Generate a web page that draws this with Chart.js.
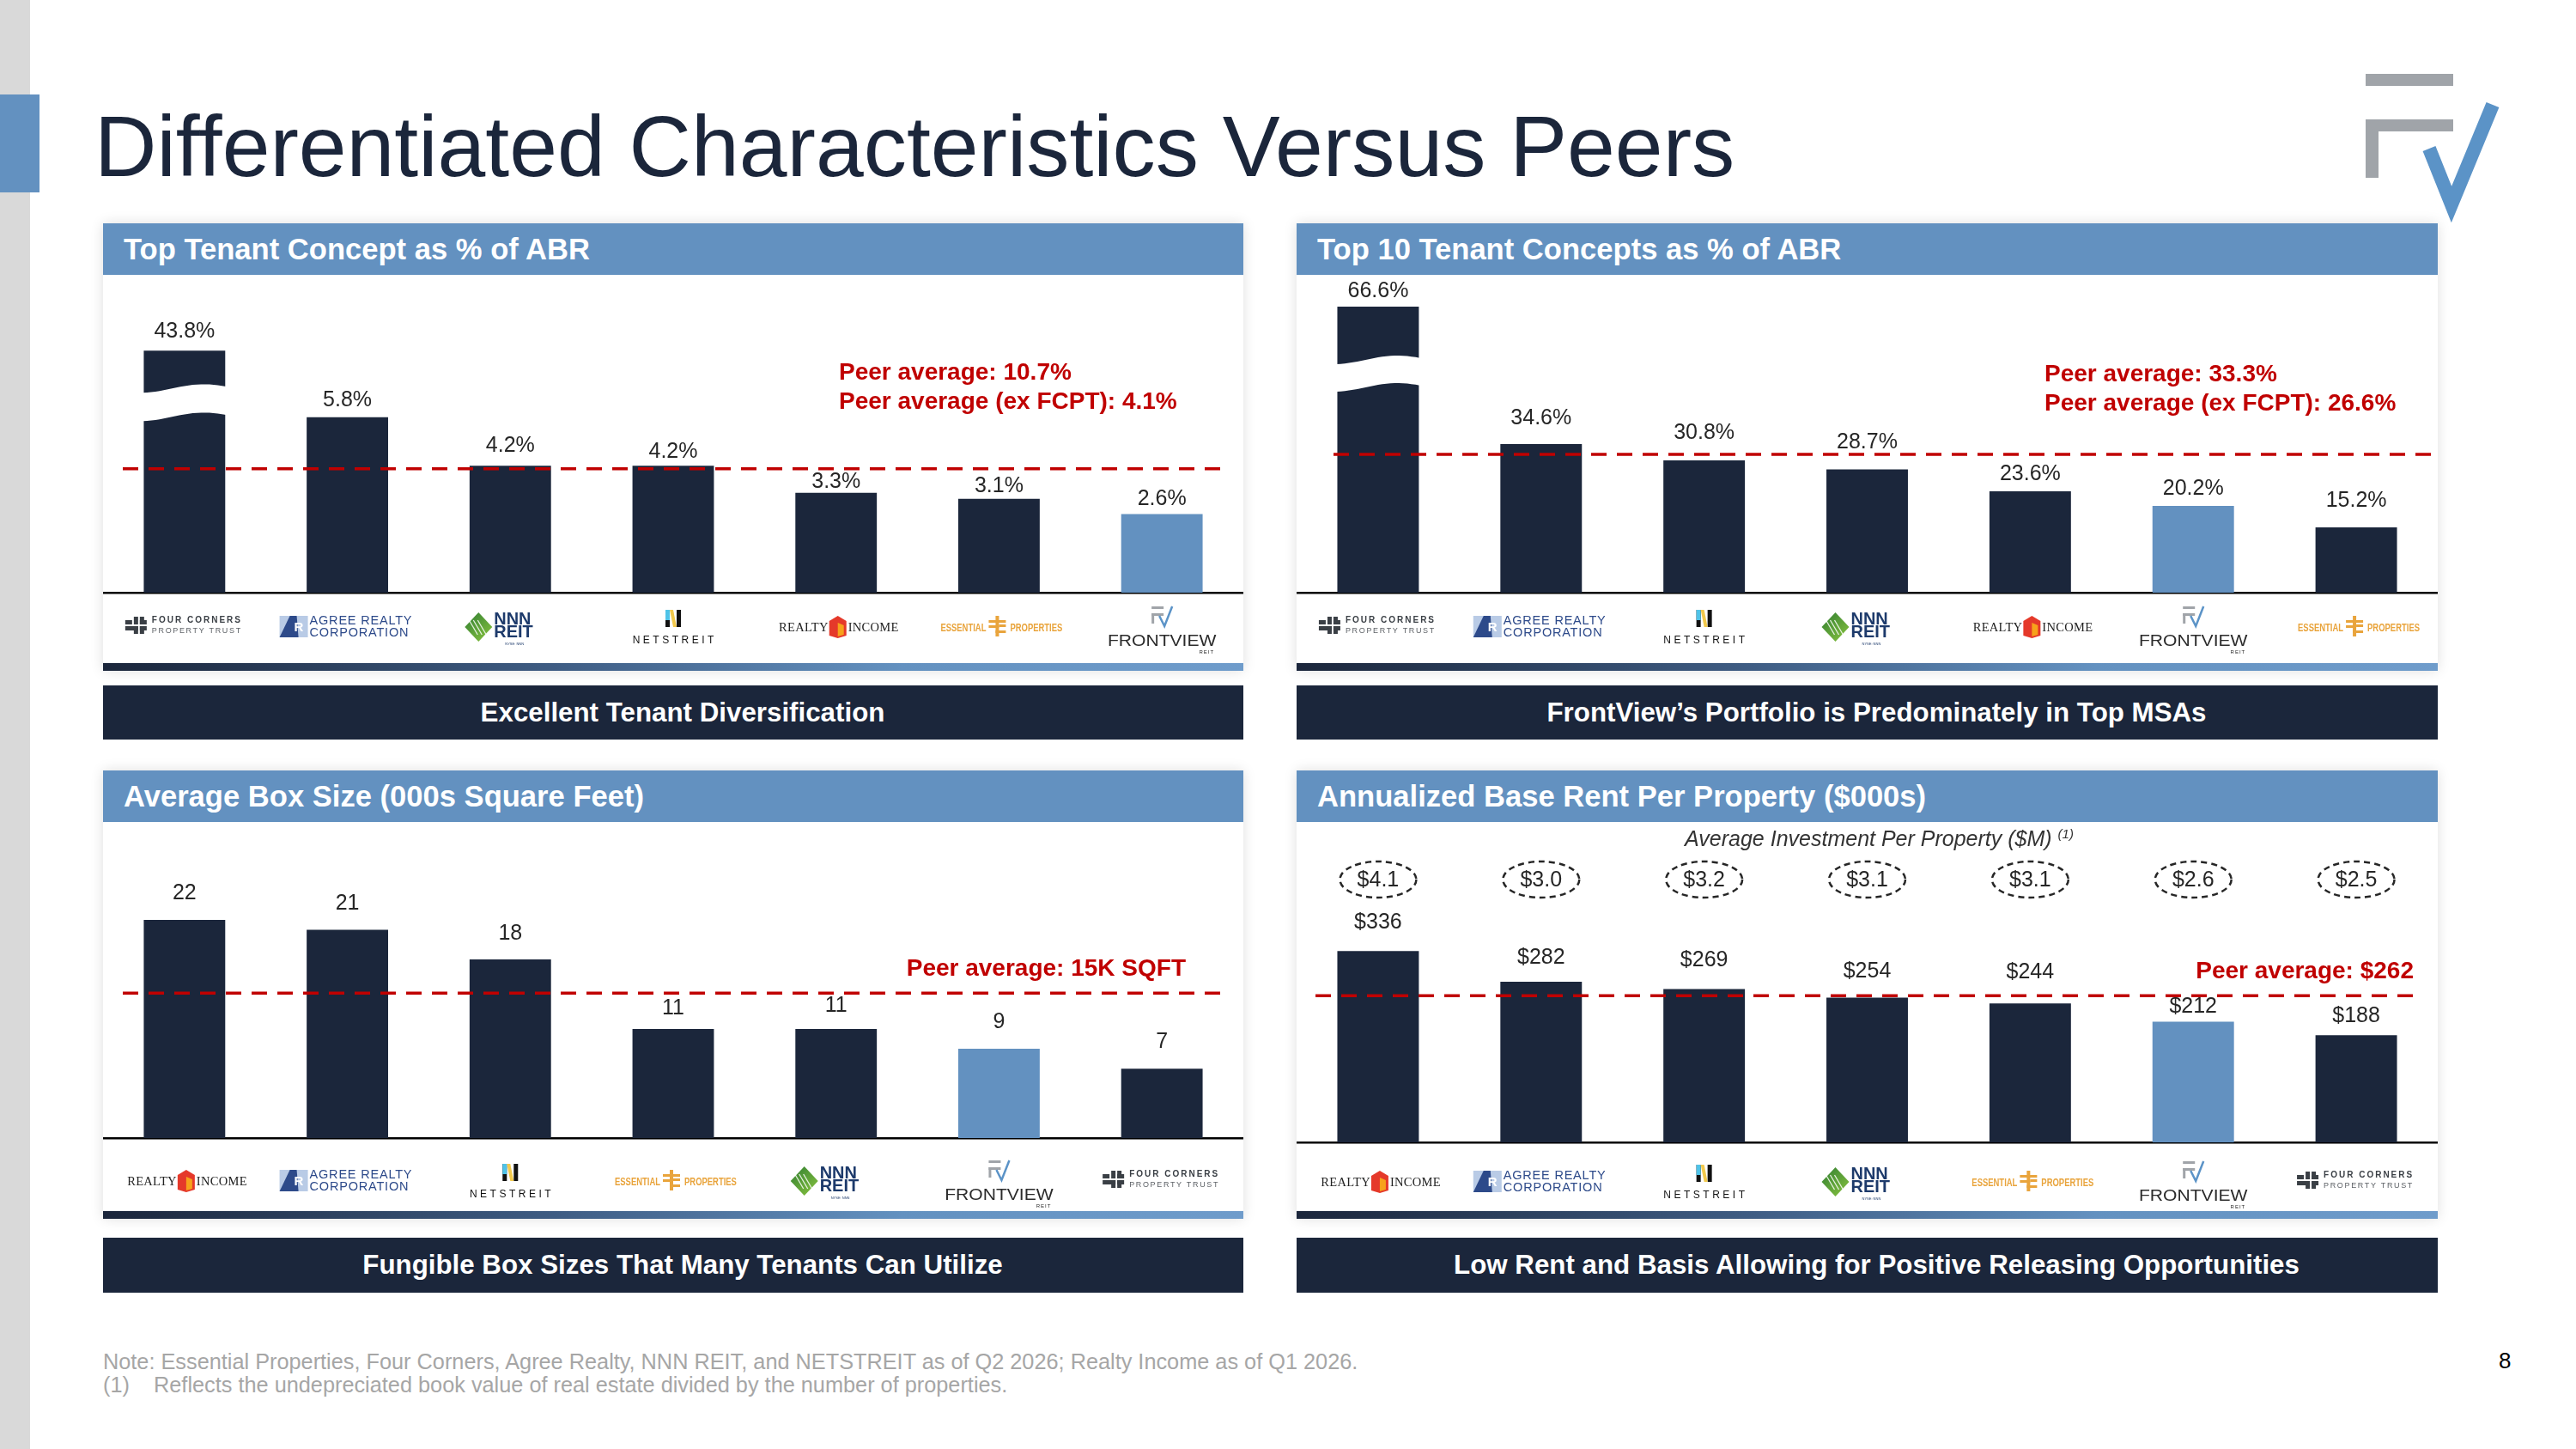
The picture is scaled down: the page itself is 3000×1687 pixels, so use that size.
<!DOCTYPE html>
<html>
<head>
<meta charset="utf-8">
<title>Differentiated Characteristics Versus Peers</title>
<script src="https://cdn.jsdelivr.net/npm/chart.js@4.4.1/dist/chart.umd.min.js"></script>
<style>
  html, body { margin: 0; padding: 0; }
  body { width: 3000px; height: 1687px; position: relative; overflow: hidden; background: #fff; font-family: "Liberation Sans", Arial, sans-serif; }
  .strip { position: absolute; left: 0; top: 0; width: 35px; height: 1687px; background: #d9d9d9; }
  .accent { position: absolute; left: 0; top: 110px; width: 46px; height: 114px; background: #6391c0; }
  h1 { position: absolute; left: 110px; top: 120px; margin: 0; font-size: 100.3px; font-weight: normal; line-height: 100px; color: #1b263b; white-space: nowrap; }
  .logo { position: absolute; left: 2740px; top: 75px; }
  .panel { position: absolute; background: #fff; box-shadow: 0 0 14px rgba(0,0,0,0.13); }
  .phead { height: 60px; line-height: 60px; background: #6391c0; color: #fff; font-weight: bold; font-size: 34.6px; padding-left: 24px; white-space: nowrap; }
  .pbody { position: relative; }
  .pgrad { height: 9px; background: linear-gradient(to right, #1b263b 0%, #3f5d84 40%, #6391c0 70%, #6f9ccb 100%); }
  .banner { position: absolute; box-sizing: border-box; padding-left: 22px; background: #1b263b; color: #fff; font-weight: bold; font-size: 31.3px; text-align: center; white-space: nowrap; }
  .sub { position: absolute; left: 1524px; width: 1329px; top: 961px; line-height: 30px; text-align: center; font-style: italic; font-size: 25px; color: #333; }
  .sub sup { font-size: 15px; line-height: 0; }
  .note { position: absolute; left: 120px; top: 1572px; font-size: 25.3px; line-height: 27px; color: #a6a6a6; white-space: nowrap; }
  .page { position: absolute; left: 2910px; top: 1569px; font-size: 26px; line-height: 30px; color: #000; }
</style>
</head>
<body>
<div class="strip"></div>
<div class="accent"></div>
<h1>Differentiated Characteristics Versus Peers</h1>
<svg class="logo" width="200" height="190" viewBox="2740 75 200 190">
  <rect x="2755" y="86" width="102" height="14" fill="#a0a4a9"/>
  <rect x="2755" y="139" width="102" height="14" fill="#a0a4a9"/>
  <rect x="2755" y="139" width="15" height="68" fill="#a0a4a9"/>
  <polyline points="2829,173 2855,238 2903,122" fill="none" stroke="#5b93c7" stroke-width="16" stroke-linejoin="miter"/>
</svg>

<div class="panel" style="left:120px; top:260px; width:1328px;">
  <div class="phead">Top Tenant Concept as % of ABR</div>
  <div class="pbody" style="height:452px"><canvas id="chartTop"></canvas></div>
  <div class="pgrad"></div>
</div>
<div class="banner" style="left:120px; top:798px; width:1328px; height:63px; line-height:63px;">Excellent Tenant Diversification</div>

<div class="panel" style="left:1510px; top:260px; width:1329px;">
  <div class="phead">Top 10 Tenant Concepts as % of ABR</div>
  <div class="pbody" style="height:452px"><canvas id="chartTop10"></canvas></div>
  <div class="pgrad"></div>
</div>
<div class="banner" style="left:1510px; top:798px; width:1329px; height:63px; line-height:63px;">FrontView’s Portfolio is Predominately in Top MSAs</div>

<div class="panel" style="left:120px; top:897px; width:1328px;">
  <div class="phead">Average Box Size (000s Square Feet)</div>
  <div class="pbody" style="height:453px"><canvas id="chartBox"></canvas></div>
  <div class="pgrad"></div>
</div>
<div class="banner" style="left:120px; top:1441px; width:1328px; height:64px; line-height:64px;">Fungible Box Sizes That Many Tenants Can Utilize</div>

<div class="panel" style="left:1510px; top:897px; width:1329px;">
  <div class="phead">Annualized Base Rent Per Property ($000s)</div>
  <div class="pbody" style="height:453px"><canvas id="chartRent"></canvas></div>
  <div class="pgrad"></div>
</div>
<div class="sub">Average Investment Per Property ($M) <sup>(1)</sup></div>
<div class="banner" style="left:1510px; top:1441px; width:1329px; height:64px; line-height:64px;">Low Rent and Basis Allowing for Positive Releasing Opportunities</div>

<div class="note">Note: Essential Properties, Four Corners, Agree Realty, NNN REIT, and NETSTREIT as of Q2 2026; Realty Income as of Q1 2026.<br>(1)&nbsp;&nbsp;&nbsp; Reflects the undepreciated book value of real estate divided by the number of properties.</div>
<div class="page">8</div>

<script>
// Data
const topTenantCompanies = ['Four Corners', 'Agree Realty', 'NNN REIT', 'NETSTREIT', 'Realty Income', 'Essential Properties', 'FrontView'];
const topTenantValues = [43.8, 5.8, 4.2, 4.2, 3.3, 3.1, 2.6];
const topTenantPeerLine = 4.1;

const top10Companies = ['Four Corners', 'Agree Realty', 'NETSTREIT', 'NNN REIT', 'Realty Income', 'FrontView', 'Essential Properties'];
const top10Values = [66.6, 34.6, 30.8, 28.7, 23.6, 20.2, 15.2];
const top10PeerLine = 32.2;

const boxCompanies = ['Realty Income', 'Agree Realty', 'NETSTREIT', 'Essential Properties', 'NNN REIT', 'FrontView', 'Four Corners'];
const boxValues = [22, 21, 18, 11, 11, 9, 7];
const boxPeerLine = 14.6;

const rentCompanies = ['Realty Income', 'Agree Realty', 'NETSTREIT', 'NNN REIT', 'Essential Properties', 'FrontView', 'Four Corners'];
const rentValues = [336, 282, 269, 254, 244, 212, 188];
const investmentValues = [4.1, 3.0, 3.2, 3.1, 3.1, 2.6, 2.5];
const rentPeerLine = 257.5;

const NAVY = '#1b263b';
const LIGHT = '#6391c0';
const RED = '#c00000';
const FONT = '"Liberation Sans", Arial, sans-serif';

// squeeze / stretch text horizontally
function wideText(ctx, text, x, y, sx) {
    ctx.save();
    ctx.translate(x, y);
    ctx.scale(sx, 1);
    ctx.fillText(text, 0, 0);
    ctx.restore();
}

// Company logos drawn as text + simple shapes, centred on x / y
function drawLogo(ctx, name, x, y) {
    ctx.save();
    ctx.textBaseline = 'middle';
    ctx.textAlign = 'left';
    if (name === 'Four Corners') {
        const l = x - 69;
        ctx.fillStyle = '#3a3f45';
        ctx.fillRect(l, y - 6, 8, 5);
        ctx.fillRect(l + 10, y - 10, 5, 9);
        ctx.fillRect(l + 17, y - 10, 5, 9);
        ctx.fillRect(l + 17, y - 6, 8, 5);
        ctx.fillRect(l, y + 1, 15, 5);
        ctx.fillRect(l + 10, y + 1, 5, 9);
        ctx.fillRect(l + 17, y + 1, 8, 5);
        ctx.fillRect(l + 17, y + 1, 5, 9);
        ctx.font = 'bold 10px ' + FONT;
        ctx.letterSpacing = '2px';
        ctx.fillText('FOUR CORNERS', l + 31, y - 6);
        ctx.fillStyle = '#5d6166';
        ctx.font = '9px ' + FONT;
        ctx.letterSpacing = '1.65px';
        ctx.fillText('PROPERTY TRUST', l + 31, y + 7);
    } else if (name === 'Agree Realty') {
        const l = x - 79;
        ctx.fillStyle = '#b9cbe6';
        ctx.fillRect(l, y - 11, 33, 25);
        ctx.fillStyle = '#2d4a8a';
        ctx.beginPath();
        ctx.moveTo(l, y + 14);
        ctx.lineTo(l + 12, y - 11);
        ctx.lineTo(l + 20, y - 11);
        ctx.lineTo(l + 22, y + 14);
        ctx.closePath();
        ctx.fill();
        ctx.fillStyle = '#fff';
        ctx.font = 'bold 15px ' + FONT;
        ctx.fillText('R', l + 17, y + 3);
        ctx.fillStyle = '#2d4a8a';
        ctx.font = '14.5px ' + FONT;
        ctx.letterSpacing = '0.8px';
        ctx.fillText('AGREE REALTY', l + 35, y - 5);
        ctx.fillText('CORPORATION', l + 35, y + 9);
    } else if (name === 'NNN REIT') {
        const cx = x - 37, cy = y + 2;
        const g = ctx.createLinearGradient(cx - 16, cy - 17, cx + 16, cy + 17);
        g.addColorStop(0, '#2f7d32');
        g.addColorStop(1, '#8cc63f');
        ctx.fillStyle = g;
        ctx.beginPath();
        ctx.moveTo(cx, cy - 17);
        ctx.lineTo(cx + 16, cy);
        ctx.lineTo(cx, cy + 17);
        ctx.lineTo(cx - 16, cy);
        ctx.closePath();
        ctx.fill();
        ctx.strokeStyle = 'rgba(255,255,255,0.85)';
        ctx.lineWidth = 1.3;
        for (let k = -1; k <= 1; k++) {
            ctx.beginPath();
            ctx.moveTo(cx - 6 + k * 5, cy - 8);
            ctx.lineTo(cx + 4 + k * 5, cy + 9);
            ctx.stroke();
        }
        ctx.fillStyle = '#1d3a6b';
        ctx.font = 'bold 21px ' + FONT;
        wideText(ctx, 'NNN', x - 19, y - 7, 0.95);
        wideText(ctx, 'REIT', x - 19, y + 8, 0.95);
        ctx.font = '4px ' + FONT;
        ctx.fillText('NYSE: NNN', x - 6, y + 22);
    } else if (name === 'NETSTREIT') {
        const iy = y - 8;
        ctx.fillStyle = '#111';
        ctx.fillRect(x - 9, iy - 10, 5, 20);
        ctx.fillRect(x + 4, iy - 10, 5, 20);
        ctx.fillStyle = '#4fc3e8';
        ctx.fillRect(x - 9, iy - 10, 5, 12);
        ctx.fillStyle = '#f2c94c';
        ctx.beginPath();
        ctx.moveTo(x - 4, iy - 10);
        ctx.lineTo(x, iy - 10);
        ctx.lineTo(x + 4, iy + 10);
        ctx.lineTo(x, iy + 10);
        ctx.closePath();
        ctx.fill();
        ctx.fillStyle = '#111';
        ctx.font = '12px ' + FONT;
        ctx.letterSpacing = '3.5px';
        ctx.textAlign = 'center';
        ctx.fillText('NETSTREIT', x + 1.75, y + 18);
    } else if (name === 'Realty Income') {
        ctx.fillStyle = '#222';
        ctx.font = '14.5px "Liberation Serif", "DejaVu Serif", serif';
        ctx.letterSpacing = '0.3px';
        ctx.textAlign = 'right';
        ctx.fillText('REALTY', x - 9, y + 3);
        ctx.textAlign = 'left';
        ctx.fillText('INCOME', x + 14, y + 3);
        const cx = x + 2;
        ctx.fillStyle = '#e5392a';
        ctx.beginPath();
        ctx.moveTo(cx, y - 11);
        ctx.lineTo(cx + 10, y - 5);
        ctx.lineTo(cx + 10, y + 12);
        ctx.lineTo(cx, y + 15);
        ctx.lineTo(cx - 10, y + 12);
        ctx.lineTo(cx - 10, y - 5);
        ctx.closePath();
        ctx.fill();
        ctx.fillStyle = '#f7a21b';
        ctx.beginPath();
        ctx.moveTo(cx, y - 3);
        ctx.lineTo(cx + 7, y);
        ctx.lineTo(cx + 7, y + 11);
        ctx.lineTo(cx, y + 13);
        ctx.closePath();
        ctx.fill();
    } else if (name === 'Essential Properties') {
        const cx = x - 2;
        ctx.fillStyle = '#e9a43c';
        ctx.font = 'bold 13.5px ' + FONT;
        ctx.textAlign = 'right';
        wideText(ctx, 'ESSENTIAL', cx - 13, y + 3, 0.7);
        ctx.textAlign = 'left';
        wideText(ctx, 'PROPERTIES', cx + 15, y + 3, 0.7);
        ctx.fillRect(cx - 2, y - 11, 4, 24);
        ctx.fillRect(cx - 10, y - 6, 20, 3);
        ctx.fillRect(cx - 10, y + 0, 12, 3);
        ctx.fillRect(cx - 2, y + 6, 12, 3);
        ctx.fillRect(cx + 2, y - 1, 8, 3);
    } else if (name === 'FrontView') {
        const iy = y - 10;
        ctx.fillStyle = '#a0a4a9';
        ctx.fillRect(x - 12, iy - 12, 14, 3);
        ctx.fillRect(x - 12, iy - 4, 14, 3);
        ctx.fillRect(x - 12, iy - 4, 3, 12);
        ctx.strokeStyle = '#5b93c7';
        ctx.lineWidth = 2.5;
        ctx.beginPath();
        ctx.moveTo(x - 3, iy - 1);
        ctx.lineTo(x + 3, iy + 11);
        ctx.lineTo(x + 12, iy - 12);
        ctx.stroke();
        ctx.fillStyle = '#2b2b2b';
        ctx.font = '19px ' + FONT;
        ctx.textAlign = 'center';
        wideText(ctx, 'FRONTVIEW', x, y + 19, 1.11);
        ctx.font = '6px ' + FONT;
        ctx.letterSpacing = '1px';
        ctx.textAlign = 'right';
        ctx.fillText('REIT', x + 61, y + 31);
    }
    ctx.restore();
}

function buildChart(id, cfg) {
    const plugins = [];

    // Wave break on a tall bar
    if (cfg.breakIndex !== undefined) {
        plugins.push({
            id: 'barBreak',
            afterDatasetsDraw(chart) {
                const bar = chart.getDatasetMeta(0).data[cfg.breakIndex];
                const ctx = chart.ctx;
                const left = bar.x - bar.width / 2 - 1;
                const right = bar.x + bar.width / 2 + 1;
                const base = bar.y + cfg.breakAt;
                const wave = t => 5 * Math.cos(Math.PI * (1.3 * t + 0.05));
                ctx.save();
                ctx.beginPath();
                for (let k = 0; k <= 20; k++) {
                    const t = k / 20;
                    const px = left + t * (right - left);
                    if (k === 0) ctx.moveTo(px, base + wave(t)); else ctx.lineTo(px, base + wave(t));
                }
                for (let k = 20; k >= 0; k--) {
                    const t = k / 20;
                    ctx.lineTo(left + t * (right - left), base + cfg.breakBand + wave(t));
                }
                ctx.closePath();
                ctx.fillStyle = '#fff';
                ctx.fill();
                ctx.restore();
            }
        });
    }

    // Value labels, peer line, notes and logos
    plugins.push({
        id: 'decor',
        afterDatasetsDraw(chart) {
            const ctx = chart.ctx;
            const area = chart.chartArea;
            const meta = chart.getDatasetMeta(0);
            ctx.save();
            ctx.font = '25px ' + FONT;
            ctx.fillStyle = '#262626';
            ctx.textAlign = 'center';
            ctx.textBaseline = 'middle';
            meta.data.forEach((bar, i) => {
                ctx.fillText(cfg.format(cfg.values[i]), bar.x, bar.y - cfg.labelGaps[i]);
            });

            const py = chart.scales.y.getPixelForValue(cfg.peerLine);
            ctx.strokeStyle = RED;
            ctx.lineWidth = 3.5;
            ctx.setLineDash([18, 12]);
            ctx.beginPath();
            ctx.moveTo(area.left + cfg.lineFrom, py);
            ctx.lineTo(area.right - cfg.lineTo, py);
            ctx.stroke();
            ctx.setLineDash([]);

            ctx.fillStyle = RED;
            ctx.font = 'bold 28px ' + FONT;
            ctx.textAlign = cfg.noteAlign;
            cfg.notes.forEach((t, k) => {
                ctx.fillText(t, cfg.noteX, cfg.noteY + k * 34);
            });

            chart.data.labels.forEach((name, i) => {
                drawLogo(ctx, name, chart.scales.x.getPixelForValue(i), area.bottom + cfg.logoGap);
            });

            if (cfg.circles) {
                ctx.font = '25px ' + FONT;
                ctx.fillStyle = '#262626';
                ctx.strokeStyle = '#262626';
                ctx.lineWidth = 2.5;
                ctx.textAlign = 'center';
                cfg.circles.forEach((v, i) => {
                    const cx = chart.scales.x.getPixelForValue(i);
                    const cy = area.top + 67;
                    ctx.setLineDash([7, 5]);
                    ctx.beginPath();
                    ctx.ellipse(cx, cy, 44.5, 21, 0, 0, Math.PI * 2);
                    ctx.stroke();
                    ctx.setLineDash([]);
                    ctx.fillText('$' + v.toFixed(1), cx, cy + 1);
                });
            }
            ctx.restore();
        }
    });

    return new Chart(document.getElementById(id), {
        type: 'bar',
        data: {
            labels: cfg.labels,
            datasets: [{
                data: cfg.values.map(v => cfg.cap ? Math.min(v, cfg.cap) : v),
                backgroundColor: cfg.labels.map(l => l === 'FrontView' ? LIGHT : NAVY),
                barPercentage: 0.5,
                categoryPercentage: 1
            }]
        },
        options: {
            responsive: true,
            maintainAspectRatio: false,
            animation: false,
            layout: { padding: { left: 0, right: 0, top: 0, bottom: cfg.bottomPad } },
            plugins: {
                legend: { display: false },
                tooltip: { enabled: false }
            },
            scales: {
                x: {
                    grid: { display: false, drawTicks: false },
                    ticks: { display: false },
                    border: { display: true, color: '#000', width: 2.5 }
                },
                y: { display: false, min: 0, max: cfg.max }
            }
        },
        plugins: plugins
    });
}

const pct = v => v.toFixed(1) + '%';

// label gaps (px above each bar) follow the placement on the original slide
buildChart('chartTop', {
    labels: topTenantCompanies, values: topTenantValues, format: pct,
    max: 10.51, bottomPad: 82, cap: 8.0, breakIndex: 0, breakAt: 44, breakBand: 33,
    labelGaps: [22, 20, 23, 16, 13, 15, 17], peerLine: topTenantPeerLine, lineFrom: 23, lineTo: 26,
    notes: ['Peer average: 10.7%', 'Peer average (ex FCPT): 4.1%'], noteAlign: 'left', noteX: 857, noteY: 114,
    logoGap: 38
});

buildChart('chartTop10', {
    labels: top10Companies, values: top10Values, format: pct,
    max: 74.0, bottomPad: 82, breakIndex: 0, breakAt: 62, breakBand: 32,
    labelGaps: [18, 30, 32, 31, 20, 20, 31], peerLine: top10PeerLine, lineFrom: 43, lineTo: 7,
    notes: ['Peer average: 33.3%', 'Peer average (ex FCPT): 26.6%'], noteAlign: 'left', noteX: 871, noteY: 116,
    logoGap: 38
});

buildChart('chartBox', {
    labels: boxCompanies, values: boxValues, format: v => String(v),
    max: 31.86, bottomPad: 85,
    labelGaps: [31, 30, 30, 24, 27, 31, 31], peerLine: boxPeerLine, lineFrom: 23, lineTo: 26,
    notes: ['Peer average: 15K SQFT'], noteAlign: 'right', noteX: 1261, noteY: 171,
    logoGap: 48
});

buildChart('chartRent', {
    labels: rentCompanies, values: rentValues, format: v => '$' + v,
    max: 562.4, bottomPad: 80, circles: investmentValues,
    labelGaps: [33, 28, 33, 30, 36, 17, 22], peerLine: rentPeerLine, lineFrom: 22, lineTo: 23,
    notes: ['Peer average: $262'], noteAlign: 'right', noteX: 1301, noteY: 174,
    logoGap: 44
});
</script>
</body>
</html>
